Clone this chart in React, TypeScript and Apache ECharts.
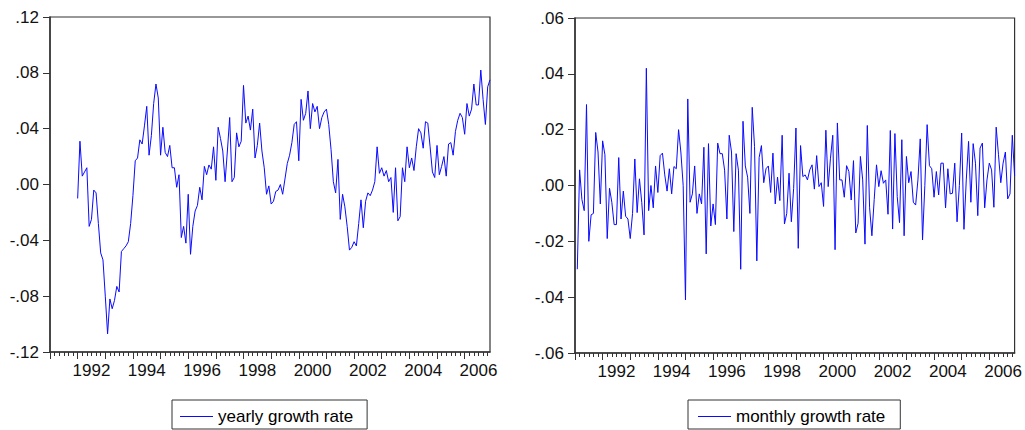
import React, { useEffect, useRef } from "react";
import * as echarts from "echarts";

// Months are counted from January 1991 (index 0) to December 2006 (index 191).
const axisStartYear = 1991;
const lastMonthIndex = 191;
const yearlyStartIndex = 12; // Jan 1992
const monthlyStartIndex = 1; // Feb 1991

const tickYears = [1991, 1992, 1993, 1994, 1995, 1996, 1997, 1998, 1999, 2000, 2001, 2002, 2003, 2004, 2005, 2006];
const labelYears = [1992, 1994, 1996, 1998, 2000, 2002, 2004, 2006];

const leftYTicks = [-0.12, -0.08, -0.04, 0, 0.04, 0.08, 0.12];
const rightYTicks = [-0.06, -0.04, -0.02, 0, 0.02, 0.04, 0.06];

// yearly growth rate, Jan 1992 .. Dec 2006
const yearlyGrowth = [
  -0.010, 0.031, 0.006, 0.009, 0.012, -0.030, -0.025, -0.004, -0.006, -0.028, -0.049, -0.054,
  -0.080, -0.107, -0.082, -0.089, -0.083, -0.073, -0.077, -0.048, -0.046, -0.044, -0.041, -0.028,
  -0.008, 0.017, 0.019, 0.032, 0.029, 0.042, 0.056, 0.021, 0.035, 0.058, 0.072, 0.062,
  0.021, 0.041, 0.023, 0.020, 0.028, 0.012, 0.012, -0.002, 0.007, -0.038, -0.030, -0.042,
  -0.007, -0.050, -0.030, -0.019, -0.015, -0.002, -0.011, 0.013, 0.007, 0.014, 0.011, 0.027,
  0.003, 0.041, 0.033, 0.024, 0.002, 0.024, 0.048, 0.002, 0.005, 0.037, 0.027, 0.031,
  0.071, 0.044, 0.049, 0.039, 0.054, 0.019, 0.028, 0.044, 0.024, 0.012, -0.007, -0.001,
  -0.014, -0.012, -0.005, -0.004, 0.000, -0.007, 0.004, 0.015, 0.021, 0.030, 0.043, 0.045,
  0.017, 0.061, 0.046, 0.051, 0.067, 0.040, 0.058, 0.052, 0.056, 0.040, 0.048, 0.052,
  0.054, 0.043, 0.025, 0.002, -0.006, 0.018, -0.025, -0.007, -0.016, -0.030, -0.047, -0.045,
  -0.041, -0.044, -0.028, -0.011, -0.031, -0.012, -0.006, -0.008, -0.004, 0.002, 0.027, 0.008,
  0.012, 0.006, 0.010, 0.002, 0.005, -0.020, 0.012, -0.026, -0.023, 0.012, 0.002, 0.027,
  0.012, 0.019, 0.010, 0.027, 0.040, 0.037, 0.026, 0.045, 0.044, 0.027, 0.009, 0.005,
  0.028, 0.007, 0.013, 0.020, 0.006, 0.029, 0.030, 0.021, 0.038, 0.046, 0.051, 0.048,
  0.036, 0.058, 0.049, 0.054, 0.072, 0.057, 0.057, 0.082, 0.061, 0.043, 0.070, 0.075,
];

// monthly growth rate, Feb 1991 .. Dec 2006
const monthlyGrowth = [
  -0.030, 0.0056, -0.005, -0.009, 0.029, -0.020, -0.0105, -0.010, 0.019, 0.012, -0.0066,
  0.016, 0.011, -0.019, -0.001, -0.006, -0.014, -0.014, 0.010, -0.012, -0.002, -0.011, -0.012,
  -0.019, -0.010, 0.0095, -0.0097, 0.0024, -0.006, -0.0177, 0.042, -0.009, 0.000, -0.008, 0.007,
  -0.0025, 0.0107, 0.0116, 0.0038, -0.002, 0.006, -0.003, 0.0068, 0.006, 0.020, 0.012, 0.000,
  -0.041, 0.031, -0.006, -0.003, 0.007, -0.010, -0.003, -0.0066, 0.0137, -0.0245, 0.015, -0.0145,
  -0.0066, -0.014, 0.0152, 0.0114, 0.0114, 0.0055, -0.012, 0.018, 0.012, -0.0165, 0.0114, 0.0055,
  -0.030, 0.023, 0.007, 0.003, -0.010, 0.028, 0.014, -0.027, 0.010, 0.0143, 0.001, 0.006,
  0.007, -0.0025, 0.0116, -0.0066, 0.003, -0.0054, 0.018, -0.0138, -0.010, 0.0044, -0.013, -0.001,
  0.0206, -0.0225, 0.0143, 0.0032, 0.0038, 0.002, 0.0056, 0.0074, -0.0013, 0.0107, -0.0004, 0.001,
  -0.0075, 0.0198, -0.0004, 0.0098, 0.018, -0.023, 0.0224, 0.002, 0.002, -0.0042, 0.0071, 0.005,
  -0.0052, 0.0089, -0.017, -0.0135, 0.0104, 0.002, -0.021, 0.0215, -0.008, -0.018, -0.005, 0.0074,
  -0.0004, 0.0053, 0.0008, 0.002, -0.0103, 0.0197, -0.0156, 0.0186, -0.004, -0.0133, 0.0164, -0.018,
  0.0104, 0.001, 0.005, -0.006, -0.007, 0.002, 0.0167, -0.0195, 0.000, 0.0218, 0.0071, 0.006,
  -0.0042, 0.005, -0.0034, 0.008, 0.008, -0.008, 0.006, -0.003, -0.0028, 0.008, -0.013, 0.000,
  0.0188, -0.0157, 0.002, 0.0158, -0.006, 0.015, 0.008, -0.0108, 0.0134, 0.0152, -0.008, 0.002,
  0.008, 0.0056, -0.0078, 0.0209, 0.011, 0.001, 0.008, 0.012, -0.0048, -0.003, 0.018, 0.0035,
];

const FONT = "'Liberation Sans', Arial, Helvetica, sans-serif";
const AXIS_COLOR = "#333333";
const LINE_COLOR = "#0a0aff";

const fmtY = (v: number) => {
  const r = Math.round(v * 100) / 100;
  if (Math.abs(r) < 1e-9) return ".00";
  const s = Math.abs(r).toFixed(2).slice(1);
  return (r < 0 ? "-" : "") + s;
};

const makeXAxis = (gridIndex: number) => ({
  type: "value",
  gridIndex,
  min: 0,
  max: lastMonthIndex,
  interval: 12,
  axisLine: { show: true, onZero: false, lineStyle: { color: AXIS_COLOR, width: 1.5 } },
  axisTick: {
    show: true,
    length: 7,
    customValues: tickYears.map((y) => (y - axisStartYear) * 12),
    lineStyle: { color: AXIS_COLOR, width: 1 },
  },
  minorTick: { show: true, splitNumber: 6, length: 4, lineStyle: { color: AXIS_COLOR, width: 1 } },
  axisLabel: {
    show: true,
    margin: 10,
    fontSize: 17,
    fontFamily: FONT,
    color: "#111",
    customValues: labelYears.map((y) => (y - axisStartYear) * 12 + 6),
    formatter: (v: number) => String(axisStartYear + Math.floor(v / 12)),
  },
  splitLine: { show: false },
  minorSplitLine: { show: false },
});

const makeYAxis = (gridIndex: number, ticks: number[]) => ({
  type: "value",
  gridIndex,
  min: ticks[0],
  max: ticks[ticks.length - 1],
  interval: ticks[1] - ticks[0],
  axisLine: { show: true, onZero: false, lineStyle: { color: AXIS_COLOR, width: 1.5 } },
  axisTick: { show: true, length: 7, lineStyle: { color: AXIS_COLOR, width: 1 } },
  axisLabel: {
    show: true,
    margin: 11,
    fontSize: 17,
    fontFamily: FONT,
    color: "#111",
    formatter: fmtY,
  },
  splitLine: { show: false },
});

const makeLegend = (name: string, left: number, padding: number[]) => ({
  data: [{ name, icon: "rect", itemStyle: { color: LINE_COLOR } }],
  left,
  top: 400,
  orient: "horizontal",
  padding,
  itemWidth: 33,
  itemHeight: 1,
  borderColor: AXIS_COLOR,
  borderWidth: 1,
  borderRadius: 0,
  textStyle: { fontSize: 17, fontFamily: FONT, color: "#000" },
  selectedMode: false,
});

export default function App() {
  const ref = useRef<HTMLDivElement>(null);

  useEffect(() => {
    document.body.style.margin = "0";
    if (!ref.current) return;
    const chart = echarts.init(ref.current, undefined, { renderer: "svg" });

    const yearlyData = yearlyGrowth.map((v, i) => [yearlyStartIndex + i, v]);
    const monthlyData = monthlyGrowth.map((v, i) => [monthlyStartIndex + i, v]);

    chart.setOption({
      animation: false,
      backgroundColor: "#ffffff",
      textStyle: { fontFamily: FONT },
      grid: [
        { left: 50, right: 535, top: 17, bottom: 78, show: true, borderColor: AXIS_COLOR, borderWidth: 1.2, backgroundColor: "transparent" },
        { left: 575, right: 10, top: 18, bottom: 77, show: true, borderColor: AXIS_COLOR, borderWidth: 1.2, backgroundColor: "transparent" },
      ],
      xAxis: [makeXAxis(0), makeXAxis(1)],
      yAxis: [makeYAxis(0, leftYTicks), makeYAxis(1, rightYTicks)],
      legend: [
        makeLegend("yearly growth rate", 172, [8, 14, 4, 8]),
        makeLegend("monthly growth rate", 688, [8, 15, 4, 10]),
      ],
      series: [
        {
          name: "yearly growth rate",
          type: "line",
          xAxisIndex: 0,
          yAxisIndex: 0,
          data: yearlyData,
          symbol: "none",
          lineStyle: { color: LINE_COLOR, width: 1 },
          itemStyle: { color: LINE_COLOR },
        },
        {
          name: "monthly growth rate",
          type: "line",
          xAxisIndex: 1,
          yAxisIndex: 1,
          data: monthlyData,
          symbol: "none",
          lineStyle: { color: LINE_COLOR, width: 1 },
          itemStyle: { color: LINE_COLOR },
        },
      ],
    });

    return () => {
      chart.dispose();
    };
  }, []);

  return (
    <div
      ref={ref}
      style={{ position: "absolute", left: 0, top: 0, width: 1025, height: 430, background: "#fff" }}
    />
  );
}
